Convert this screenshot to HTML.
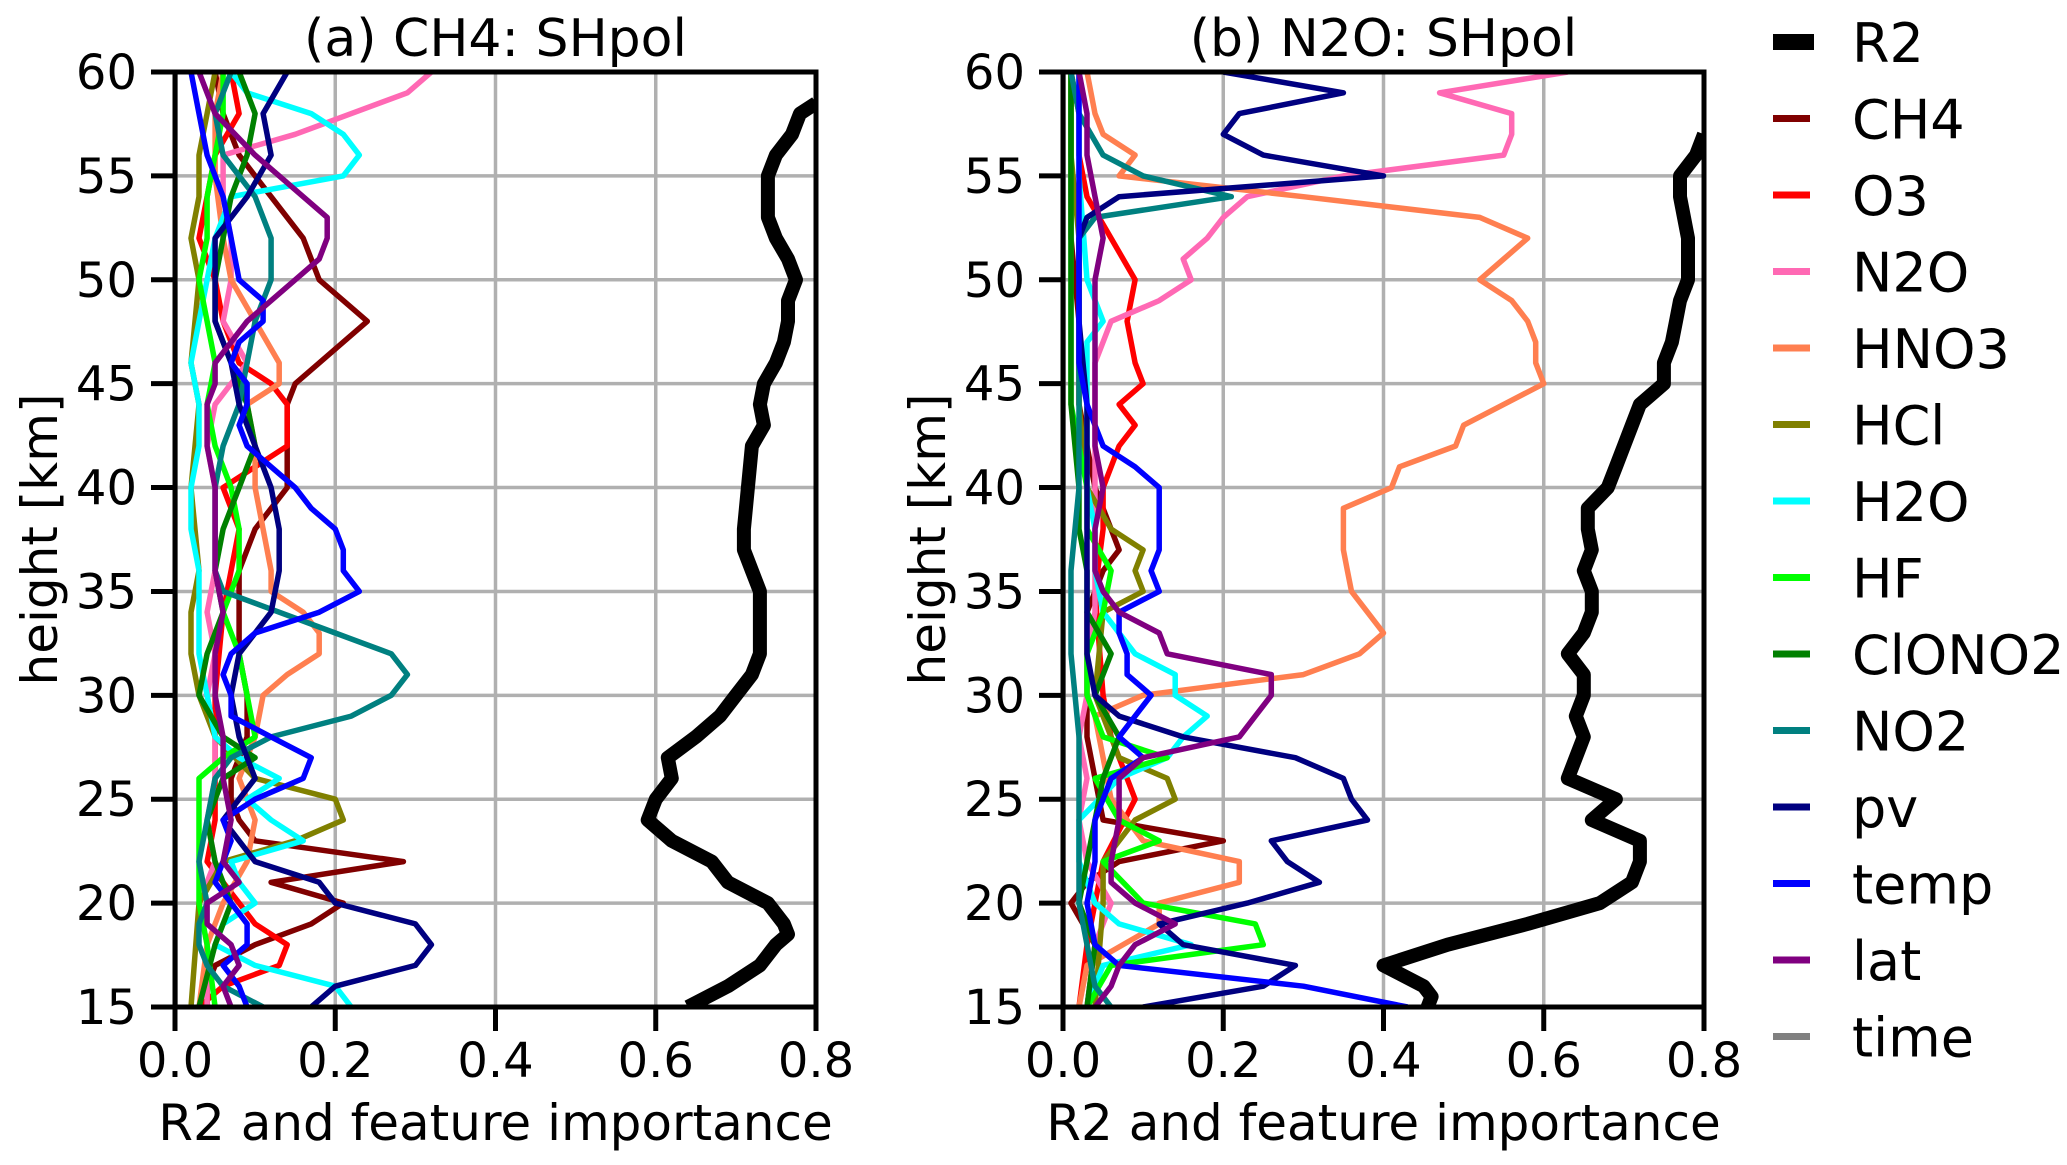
<!DOCTYPE html>
<html><head><meta charset="utf-8">
<style>
html,body{margin:0;padding:0;background:#fff;}
svg{display:block;font-family:"DejaVu Sans","Liberation Sans",sans-serif;}
</style></head>
<body>
<svg id="fig" width="2067" height="1165" viewBox="0 0 2067 1165" xmlns="http://www.w3.org/2000/svg"></svg>
<script>
const xTicks = [0.0, 0.2, 0.4, 0.6, 0.8];
const yTicks = [15, 20, 25, 30, 35, 40, 45, 50, 55, 60];
const seriesNames = ["R2","CH4","O3","N2O","HNO3","HCl","H2O","HF","ClONO2","NO2","pv","temp","lat","time"];
const seriesColors = ["#000000","#800000","#ff0000","#ff69b4","#ff7f50","#808000","#00ffff","#00ff00","#008000","#008080","#000080","#0000ff","#800080","#808080"];

// Panel (a) CH4: SHpol  — [height km, value]
const a_R2 = [[15,0.64],[16,0.69],[17,0.73],[18,0.75],[18.5,0.765],[19,0.76],[20,0.74],[21,0.69],[22,0.67],[23,0.62],[24,0.59],[25,0.60],[26,0.62],[27,0.615],[28,0.65],[29,0.68],[30,0.70],[31,0.72],[32,0.73],[33,0.73],[35,0.73],[36,0.72],[37,0.71],[38,0.71],[40,0.715],[42,0.72],[43,0.735],[44,0.73],[45,0.735],[46,0.75],[47,0.76],[48,0.765],[49,0.765],[50,0.775],[51,0.765],[52,0.75],[53,0.74],[54,0.74],[55,0.74],[56,0.75],[57,0.77],[58,0.78],[58.5,0.8]];
const a_CH4 = [[15,0.04],[16,0.04],[17,0.05],[18,0.10],[19,0.17],[20,0.21],[21,0.12],[22,0.285],[23,0.10],[24,0.08],[25,0.07],[26,0.07],[28,0.09],[30,0.09],[32,0.08],[35,0.08],[36,0.08],[38,0.10],[40,0.14],[42,0.14],[44,0.14],[45,0.15],[46,0.18],[47,0.21],[48,0.24],[49,0.21],[50,0.18],[51,0.17],[52,0.16],[54,0.12],[56,0.08],[58,0.06],[60,0.05]];
const a_O3 = [[15,0.03],[16,0.06],[17,0.13],[18,0.14],[19,0.10],[20,0.08],[21,0.06],[22,0.04],[24,0.05],[26,0.05],[28,0.05],[30,0.05],[34,0.06],[38,0.08],[40,0.06],[42,0.14],[44,0.14],[45,0.12],[46,0.08],[48,0.06],[50,0.05],[52,0.03],[54,0.04],[56,0.05],[58,0.08],[60,0.07]];
const a_N2O = [[15,0.04],[18,0.04],[20,0.03],[22,0.05],[24,0.04],[26,0.05],[28,0.05],[30,0.04],[32,0.05],[34,0.04],[36,0.05],[38,0.05],[40,0.05],[42,0.04],[44,0.05],[46,0.09],[48,0.06],[50,0.07],[52,0.07],[54,0.06],[56,0.06],[57,0.15],[58,0.22],[59,0.29],[60,0.32]];
const a_HNO3 = [[15,0.03],[18,0.04],[20,0.06],[22,0.09],[24,0.10],[26,0.08],[28,0.10],[30,0.11],[31,0.14],[32,0.18],[33,0.18],[34,0.16],[35,0.12],[36,0.12],[38,0.11],[40,0.10],[42,0.10],[44,0.09],[45,0.13],[46,0.13],[48,0.10],[50,0.07],[52,0.06],[55,0.05],[58,0.05],[60,0.06]];
const a_HCl = [[15,0.02],[20,0.03],[22,0.06],[23,0.15],[24,0.21],[25,0.20],[26,0.10],[28,0.05],[30,0.03],[32,0.02],[34,0.02],[36,0.03],[40,0.02],[44,0.03],[46,0.02],[50,0.03],[52,0.02],[54,0.03],[56,0.03],[58,0.04],[60,0.05]];
const a_H2O = [[15,0.22],[16,0.20],[17,0.10],[18,0.05],[19,0.06],[20,0.10],[21,0.08],[22,0.07],[23,0.16],[24,0.12],[25,0.09],[26,0.13],[27,0.08],[28,0.05],[30,0.04],[32,0.03],[34,0.03],[36,0.03],[38,0.02],[40,0.02],[42,0.03],[44,0.03],[46,0.02],[48,0.03],[50,0.04],[52,0.05],[54,0.07],[55,0.21],[56,0.23],[57,0.21],[58,0.17],[59,0.09],[60,0.07]];
const a_HF = [[15,0.05],[18,0.04],[20,0.03],[22,0.03],[24,0.03],[26,0.03],[27,0.06],[28,0.10],[30,0.09],[32,0.08],[34,0.06],[36,0.08],[38,0.08],[40,0.07],[42,0.05],[44,0.04],[46,0.05],[48,0.04],[50,0.03],[52,0.04],[54,0.04],[56,0.05],[58,0.06],[60,0.06]];
const a_ClONO2 = [[15,0.03],[18,0.05],[20,0.07],[22,0.05],[24,0.04],[26,0.06],[27,0.10],[28,0.06],[30,0.03],[32,0.04],[34,0.06],[36,0.05],[38,0.06],[40,0.08],[42,0.10],[44,0.09],[46,0.07],[48,0.05],[50,0.05],[52,0.06],[54,0.07],[56,0.09],[58,0.10],[60,0.08]];
const a_NO2 = [[15,0.11],[16,0.06],[17,0.04],[18,0.03],[19,0.03],[20,0.04],[22,0.03],[24,0.04],[26,0.05],[27,0.07],[28,0.12],[29,0.22],[30,0.27],[31,0.29],[32,0.27],[33,0.20],[34,0.13],[35,0.06],[36,0.05],[38,0.05],[40,0.05],[42,0.06],[44,0.08],[46,0.09],[48,0.10],[50,0.12],[52,0.12],[54,0.10],[56,0.06],[58,0.05],[60,0.07]];
const a_pv = [[15,0.17],[16,0.20],[17,0.30],[18,0.32],[19,0.30],[20,0.20],[21,0.18],[22,0.10],[23,0.08],[24,0.06],[25,0.08],[26,0.10],[28,0.08],[30,0.07],[32,0.08],[34,0.12],[36,0.13],[38,0.13],[40,0.12],[42,0.10],[44,0.08],[46,0.07],[48,0.05],[50,0.05],[52,0.05],[54,0.09],[56,0.12],[58,0.11],[60,0.14]];
const a_temp = [[15,0.09],[16,0.08],[17,0.06],[18,0.09],[19,0.09],[20,0.07],[21,0.05],[22,0.06],[23,0.07],[24,0.06],[25,0.10],[26,0.16],[27,0.17],[28,0.12],[29,0.07],[30,0.07],[31,0.06],[32,0.07],[33,0.10],[34,0.18],[35,0.23],[36,0.21],[37,0.21],[38,0.20],[39,0.17],[40,0.15],[41,0.12],[42,0.09],[43,0.08],[44,0.09],[45,0.09],[46,0.07],[47,0.08],[48,0.11],[49,0.11],[50,0.08],[52,0.07],[54,0.06],[56,0.04],[58,0.03],[60,0.02]];
const a_lat = [[15,0.07],[16,0.06],[17,0.08],[18,0.07],[19,0.04],[20,0.04],[21,0.08],[22,0.06],[24,0.07],[26,0.06],[28,0.06],[30,0.05],[32,0.05],[34,0.06],[36,0.05],[38,0.05],[40,0.05],[42,0.04],[44,0.04],[45,0.05],[46,0.05],[48,0.09],[50,0.15],[51,0.18],[52,0.19],[53,0.19],[54,0.16],[56,0.10],[58,0.05],[60,0.03]];
const a_time = [[15,0.0],[30,0.0],[45,0.0],[60,0.0]];

// Panel (b) N2O: SHpol
const b_R2 = [[15,0.455],[15.5,0.46],[16,0.45],[17,0.40],[18,0.48],[19,0.58],[20,0.67],[21,0.71],[22,0.72],[23,0.72],[24,0.66],[25,0.69],[26,0.63],[27,0.64],[28,0.65],[29,0.64],[30,0.65],[31,0.65],[32,0.63],[33,0.65],[34,0.66],[35,0.66],[36,0.65],[37,0.66],[38,0.655],[39,0.655],[40,0.68],[41,0.69],[42,0.70],[43,0.71],[44,0.72],[45,0.75],[46,0.75],[47,0.76],[48,0.765],[49,0.77],[50,0.78],[51,0.78],[52,0.78],[53,0.775],[54,0.77],[55,0.77],[56,0.79],[57,0.8]];
const b_CH4 = [[15,0.03],[18,0.04],[20,0.01],[21,0.03],[22,0.07],[23,0.20],[24,0.05],[26,0.04],[28,0.03],[30,0.03],[32,0.03],[34,0.03],[36,0.05],[37,0.07],[38,0.06],[40,0.04],[44,0.02],[48,0.02],[52,0.01],[56,0.01],[60,0.01]];
const b_O3 = [[15,0.02],[18,0.03],[20,0.04],[22,0.05],[25,0.09],[28,0.06],[30,0.05],[35,0.04],[38,0.05],[40,0.05],[42,0.07],[43,0.09],[44,0.07],[45,0.10],[46,0.09],[48,0.08],[50,0.09],[52,0.06],[54,0.03],[56,0.02],[58,0.02],[60,0.01]];
const b_N2O = [[15,0.03],[18,0.04],[20,0.06],[22,0.03],[24,0.02],[26,0.03],[28,0.02],[30,0.03],[32,0.03],[34,0.04],[36,0.04],[38,0.04],[40,0.04],[42,0.04],[44,0.04],[46,0.04],[48,0.06],[49,0.12],[50,0.16],[51,0.15],[52,0.18],[53,0.20],[54,0.23],[55,0.35],[56,0.55],[57,0.56],[58,0.56],[59,0.47],[60,0.63]];
const b_HNO3 = [[15,0.02],[17,0.03],[19,0.12],[20,0.12],[21,0.22],[22,0.22],[23,0.10],[25,0.06],[27,0.05],[29,0.04],[30,0.10],[31,0.30],[32,0.37],[33,0.40],[34,0.38],[35,0.36],[36,0.355],[37,0.35],[38,0.35],[39,0.35],[40,0.41],[41,0.42],[42,0.49],[43,0.50],[44,0.55],[45,0.60],[46,0.59],[47,0.59],[48,0.58],[49,0.56],[50,0.52],[51,0.55],[52,0.58],[53,0.52],[54,0.30],[55,0.07],[56,0.09],[57,0.05],[58,0.04],[60,0.03]];
const b_HCl = [[15,0.04],[20,0.05],[22,0.05],[24,0.09],[25,0.14],[26,0.13],[27,0.07],[30,0.04],[34,0.05],[35,0.10],[36,0.09],[37,0.10],[38,0.06],[40,0.03],[44,0.02],[48,0.02],[52,0.02],[56,0.01],[60,0.01]];
const b_H2O = [[15,0.03],[17,0.05],[18,0.16],[19,0.07],[20,0.04],[22,0.02],[24,0.02],[26,0.07],[27,0.13],[28,0.15],[29,0.18],[30,0.14],[31,0.14],[32,0.09],[34,0.05],[36,0.04],[38,0.04],[40,0.03],[44,0.03],[47,0.03],[48,0.05],[50,0.03],[55,0.02],[60,0.02]];
const b_HF = [[15,0.03],[17,0.06],[18,0.25],[19,0.24],[20,0.10],[22,0.05],[23,0.12],[24,0.07],[26,0.04],[27,0.13],[28,0.05],[30,0.03],[32,0.03],[34,0.05],[36,0.06],[38,0.03],[40,0.03],[44,0.01],[48,0.01],[52,0.01],[56,0.01],[60,0.01]];
const b_ClONO2 = [[15,0.03],[18,0.04],[20,0.02],[22,0.03],[24,0.04],[26,0.05],[28,0.07],[30,0.04],[32,0.06],[34,0.03],[36,0.03],[38,0.02],[40,0.02],[44,0.01],[50,0.01],[55,0.01],[60,0.01]];
const b_NO2 = [[15,0.06],[16,0.04],[18,0.03],[20,0.02],[24,0.02],[28,0.02],[32,0.01],[36,0.01],[40,0.02],[44,0.02],[48,0.02],[50,0.02],[52,0.02],[53,0.04],[54,0.21],[55,0.10],[56,0.05],[58,0.02],[60,0.01]];
const b_pv = [[15,0.10],[16,0.25],[17,0.29],[18,0.15],[19,0.12],[20,0.23],[21,0.32],[22,0.28],[23,0.26],[24,0.38],[25,0.36],[26,0.35],[27,0.29],[28,0.15],[29,0.07],[30,0.04],[32,0.03],[34,0.03],[36,0.03],[38,0.03],[40,0.03],[44,0.03],[48,0.02],[52,0.02],[53,0.03],[54,0.07],[55,0.40],[56,0.25],[57,0.20],[58,0.22],[59,0.35],[60,0.20]];
const b_temp = [[15,0.43],[16,0.30],[17,0.07],[18,0.04],[20,0.03],[22,0.04],[24,0.04],[26,0.06],[27,0.10],[28,0.07],[30,0.11],[31,0.08],[32,0.08],[33,0.07],[34,0.07],[35,0.12],[36,0.11],[37,0.12],[38,0.12],[39,0.12],[40,0.12],[41,0.09],[42,0.05],[43,0.04],[44,0.03],[46,0.02],[48,0.02],[50,0.02],[52,0.02],[54,0.02],[56,0.02],[58,0.02],[60,0.02]];
const b_lat = [[15,0.04],[16,0.06],[17,0.07],[18,0.09],[19,0.14],[20,0.09],[21,0.06],[22,0.06],[24,0.07],[26,0.07],[27,0.10],[28,0.22],[29,0.24],[30,0.26],[31,0.26],[32,0.13],[33,0.12],[34,0.07],[35,0.05],[36,0.04],[38,0.04],[40,0.05],[42,0.04],[44,0.04],[46,0.04],[48,0.04],[50,0.04],[52,0.05],[54,0.04],[56,0.03],[58,0.03],[60,0.02]];
const b_time = [[15,0.0],[30,0.0],[45,0.0],[60,0.0]];

const panelA = [a_R2,a_CH4,a_O3,a_N2O,a_HNO3,a_HCl,a_H2O,a_HF,a_ClONO2,a_NO2,a_pv,a_temp,a_lat,a_time];
const panelB = [b_R2,b_CH4,b_O3,b_N2O,b_HNO3,b_HCl,b_H2O,b_HF,b_ClONO2,b_NO2,b_pv,b_temp,b_lat,b_time];

const NS = "http://www.w3.org/2000/svg";
const svg = document.getElementById('fig');
function mk(tag, attrs, parent){
  const e = document.createElementNS(NS, tag);
  for (const k in attrs) e.setAttribute(k, attrs[k]);
  (parent||svg).appendChild(e);
  return e;
}
const TOP = 72, BOT = 1007, W = 641;
function drawPanel(left, title, data, key){
  const g = mk('g', {});
  
  
  const xs = v => left + v / 0.8 * W;
  const ys = h => BOT - (h - 15) / 45 * (BOT - TOP);
  const clip = mk('clipPath', {id: 'clip' + key}, g);
  mk('rect', {x: left, y: TOP, width: W, height: BOT - TOP}, clip);
  xTicks.forEach(t => {
    const l = mk('line', {x1: xs(t), x2: xs(t), y1: TOP, y2: BOT, stroke: '#b0b0b0', 'stroke-width': 3.5}, g);
    
    
  });
  yTicks.forEach(t => {
    const l = mk('line', {x1: left, x2: left + W, y1: ys(t), y2: ys(t), stroke: '#b0b0b0', 'stroke-width': 3.5}, g);
    
    
  });
  const order = [13,1,2,3,4,5,6,7,8,9,10,11,12,0];
  order.forEach(i => {
    const d = data[i];
    const pts = d.map(p => xs(p[1]).toFixed(1) + ',' + ys(p[0]).toFixed(1)).join(' ');
    const pl = mk('polyline', {points: pts, fill: 'none', stroke: seriesColors[i], 'stroke-width': i === 0 ? 14 : 5.5, 'stroke-linejoin': 'round', 'clip-path': 'url(#clip' + key + ')'}, g);
    
    
  });
  const fr = mk('rect', {x: left, y: TOP, width: W, height: BOT - TOP, fill: 'none', stroke: '#000', 'stroke-width': 5}, g);
  
  
  xTicks.forEach(t => {
    mk('line', {x1: xs(t), x2: xs(t), y1: BOT, y2: BOT + 24, stroke: '#000', 'stroke-width': 5}, g);
    const tx = mk('text', {x: xs(t), y: 1077, 'font-size': 48, 'text-anchor': 'middle'}, g);
    tx.textContent = t.toFixed(1);
    
    
  });
  yTicks.forEach(t => {
    mk('line', {x1: left - 24, x2: left, y1: ys(t), y2: ys(t), stroke: '#000', 'stroke-width': 5}, g);
    const tx = mk('text', {x: left - 38, y: ys(t) + 17, 'font-size': 48, 'text-anchor': 'end'}, g);
    tx.textContent = String(t);
    
    
  });
  const tt = mk('text', {x: left + W / 2, y: 56, 'font-size': 52, 'text-anchor': 'middle'}, g);
  tt.textContent = title;
  
  
  const xl = mk('text', {x: left + W / 2, y: 1140, 'font-size': 50, 'text-anchor': 'middle'}, g);
  xl.textContent = 'R2 and feature importance';
  
  
  const yl = mk('text', {x: 0, y: 0, 'font-size': 50, 'text-anchor': 'middle', transform: 'translate(' + (left - 118) + ',' + ((TOP + BOT) / 2) + ') rotate(-90)'}, g);
  yl.textContent = 'height [km]';
  
  
}
drawPanel(175, '(a) CH4: SHpol', panelA, 'a');
drawPanel(1063, '(b) N2O: SHpol', panelB, 'b');

const lg = mk('g', {});


seriesNames.forEach((n, i) => {
  const y = 42 + i * 76.5;
  const e = mk('g', {}, lg);
  
  
  mk('line', {x1: 1773, x2: i === 0 ? 1814 : 1810, y1: y, y2: y, stroke: seriesColors[i], 'stroke-width': i === 0 ? 16 : 7}, e);
  const t = mk('text', {x: 1852, y: y + 20, 'font-size': 54}, e);
  t.textContent = n;
});
</script>
</body></html>
